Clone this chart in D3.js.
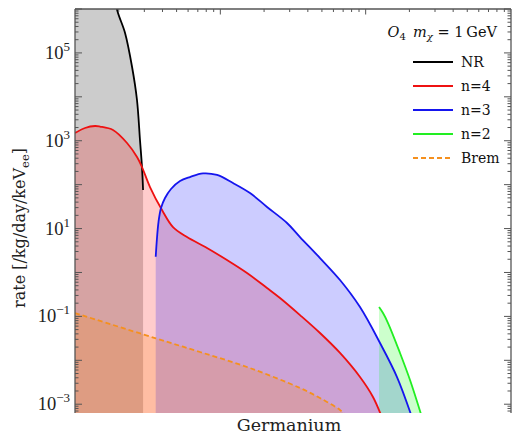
<!DOCTYPE html>
<html><head><meta charset="utf-8">
<script src="https://cdn.jsdelivr.net/npm/d3@7"></script>
<style>body{margin:0;background:#fff}svg{display:block}</style>
</head><body><svg id="c" width="515" height="434"></svg>
<script>
// ---- data (energy in eV, rate in /kg/day/keV_ee) ----
const nrE = [1.80, 1.95, 2.21, 2.47, 2.67, 2.80, 2.89, 2.94];
const nrR = [4.6e6, 9.5e5, 2.84e5, 4.78e4, 8.47e3, 1.04e3, 252, 75.5];

const n4E = [1.000, 1.172, 1.373, 1.486, 1.826, 2.280, 2.671, 2.891, 3.282, 3.969, 4.725, 5.897, 8.096, 11.11, 15.26, 20.95, 25.74, 35.33, 48.52, 66.60, 91.42, 112.3, 129.5];
const n4R = [1500, 1950, 2165, 2100, 1755, 888, 426, 252, 88.4, 26.4, 10.8, 6.42, 3.61, 1.92, 0.972, 0.443, 0.262, 0.107, 0.0418, 0.0147, 0.00416, 0.00146, 5e-4];

const n3E = [3.592, 3.666, 3.754, 3.906, 4.163, 4.577, 5.280, 6.184, 7.598, 9.487, 12.22, 16.00, 20.95, 28.76, 35.33, 48.52, 66.60, 91.42, 125.5, 164.3, 208.4];
const n3R = [2.28, 6.10, 14.1, 29.4, 49.6, 79.6, 121, 149, 180, 166, 109, 64.5, 31.0, 13.4, 6.42, 2.13, 0.673, 0.163, 0.0248, 0.00416, 5e-4];

const n2E = [123.6, 131.6, 142.5, 172.3, 201.9, 244.2];
const n2R = [0.163, 0.119, 0.0706, 0.0147, 0.00356, 5e-4];

const bremE = [1.0, 3.552, 7.246, 15.97, 35.33, 48.52, 66.60, 73.0];
const bremR = [0.119, 0.0321, 0.01545, 0.00667, 0.00234, 0.00138, 7.4e-4, 5.5e-4];

const seriesNames = ["NR", "n=4", "n=3", "n=2", "Brem"];
const yTickExponents = [5, 3, 1, -1, -3];
const xLabel = "Germanium";

// ---- layout ----
const L = 75, R = 511, T = 9, B = 413;
const svg = d3.select("#c");
const x = d3.scaleLog().domain([1, 1000]).range([L, R]);
const y = d3.scaleLog().domain([Math.pow(10, -3.2), 1e6]).range([B, T]);

svg.append("defs").append("clipPath").attr("id", "clip")
  .append("rect").attr("x", L).attr("y", T).attr("width", R - L).attr("height", B - T);

const zip = (E, Rv) => E.map((e, i) => ({e, r: Rv[i]}));
const crv = d3.curveCatmullRom.alpha(0.5);
const area = d3.area().x(d => x(d.e)).y0(B).y1(d => y(d.r)).curve(crv);
const line = d3.line().x(d => x(d.e)).y(d => y(d.r)).curve(crv);

const g = svg.append("g").attr("clip-path", "url(#clip)");

const nr = zip(nrE, nrR);
const series = [
  {data: nr, col: "#000000", lc: "#000000"},
  {data: zip(n4E, n4R), col: "#ff0000", lc: "#ee1111"},
  {data: zip(n3E, n3R), col: "#0000ff", lc: "#1515ee"},
  {data: zip(n2E, n2R), col: "#00ff00", lc: "#22ee22"},
  {data: zip(bremE, bremR), col: "#ff8000", lc: "#f5901e", dash: "5,3"}
];

// NR fill: everything left of / below the NR curve
const nrPath = () => {
  const x0 = x(nr[0].e), xl = x(nr[nr.length - 1].e), top = T - 200;
  return `M${L},${B}L${L},${top}L${x0},${top}` + line(nr).replace(/^M/, "L") + `L${xl},${B}Z`;
};

series.forEach((s, i) => {
  g.append("path").attr("d", i === 0 ? nrPath() : area(s.data))
    .attr("fill", s.col).attr("fill-opacity", 0.2);
});
series.forEach(s => {
  g.append("path").attr("d", line(s.data)).attr("fill", "none")
    .attr("stroke", s.lc).attr("stroke-width", 1.8)
    .attr("stroke-dasharray", s.dash || null);
});

// ---- frame and ticks ----
const ax = svg.append("g").attr("stroke", "#555").attr("stroke-width", 1);
ax.append("line").attr("x1", L).attr("x2", L).attr("y1", T).attr("y2", B).attr("stroke-width", 1.3);
ax.append("line").attr("x1", R).attr("x2", R).attr("y1", T).attr("y2", B).attr("stroke-width", 1.3);
ax.append("line").attr("x1", L).attr("x2", R).attr("y1", T).attr("y2", T).attr("stroke-width", 1.3);

for (let k = -4; k <= 6; k++) {
  for (let m = 1; m <= 9; m++) {
    const v = m * Math.pow(10, k);
    if (v < y.domain()[0] || v > y.domain()[1]) continue;
    const yy = y(v), len = m === 1 ? 7 : 3.5;
    ax.append("line").attr("x1", L).attr("x2", L + len).attr("y1", yy).attr("y2", yy);
    ax.append("line").attr("x1", R).attr("x2", R - len).attr("y1", yy).attr("y2", yy);
  }
}
for (let k = 0; k <= 2; k++) {
  for (let m = 1; m <= 9; m++) {
    const v = m * Math.pow(10, k);
    const xx = x(v), len = m === 1 ? 5.5 : 3;
    if (xx <= L + 1 || xx >= R - 1) continue;
    ax.append("line").attr("x1", xx).attr("x2", xx).attr("y1", T).attr("y2", T + len);
  }
}

// ---- tick labels ----
yTickExponents.forEach(p => {
  const t = svg.append("text").attr("x", 70).attr("y", y(Math.pow(10, p)) + 6)
    .attr("text-anchor", "end").attr("font-family", "Liberation Serif").attr("font-size", 18.5).attr("fill", "#222");
  t.append("tspan").text("10");
  t.append("tspan").attr("dy", -8).attr("font-size", 13).text(p < 0 ? "\u2212" + (-p) : String(p));
});

// ---- axis titles ----
svg.append("text").attr("x", 289).attr("y", 431).attr("text-anchor", "middle")
  .attr("font-family", "DejaVu Serif").attr("font-size", 17.5).attr("fill", "#222").text(xLabel);

const yl = svg.append("text").attr("transform", "translate(25,228) rotate(-90)")
  .attr("text-anchor", "middle").attr("font-family", "DejaVu Serif").attr("font-size", 16).attr("fill", "#222");
yl.append("tspan").text("rate [/kg/day/keV");
yl.append("tspan").attr("dy", 4).attr("font-size", 11.5).text("ee");
yl.append("tspan").attr("dy", -4).text("]");

// ---- legend ----
const lt = svg.append("text").attr("x", 497).attr("y", 37).attr("text-anchor", "end")
  .attr("font-family", "DejaVu Serif").attr("font-size", 14.5).attr("fill", "#111");
lt.append("tspan").attr("font-style", "italic").text("O");
lt.append("tspan").attr("dy", 3).attr("font-size", 10).text("4");
lt.append("tspan").attr("dy", -3).text("\u2002");
lt.append("tspan").attr("font-style", "italic").text("m");
lt.append("tspan").attr("dy", 3).attr("font-size", 10).attr("font-style", "italic").text("\u03c7");
lt.append("tspan").attr("dy", -3).text(" = 1\u2009GeV");

series.forEach((s, i) => {
  const yy = 62 + i * 24;
  svg.append("line").attr("x1", 413).attr("x2", 453).attr("y1", yy).attr("y2", yy)
    .attr("stroke", s.lc).attr("stroke-width", 1.8).attr("stroke-dasharray", s.dash || null);
  svg.append("text").attr("x", 461).attr("y", yy + 5).attr("font-family", "DejaVu Serif")
    .attr("font-size", 14).attr("fill", "#111").text(seriesNames[i]);
});
</script></body></html>
